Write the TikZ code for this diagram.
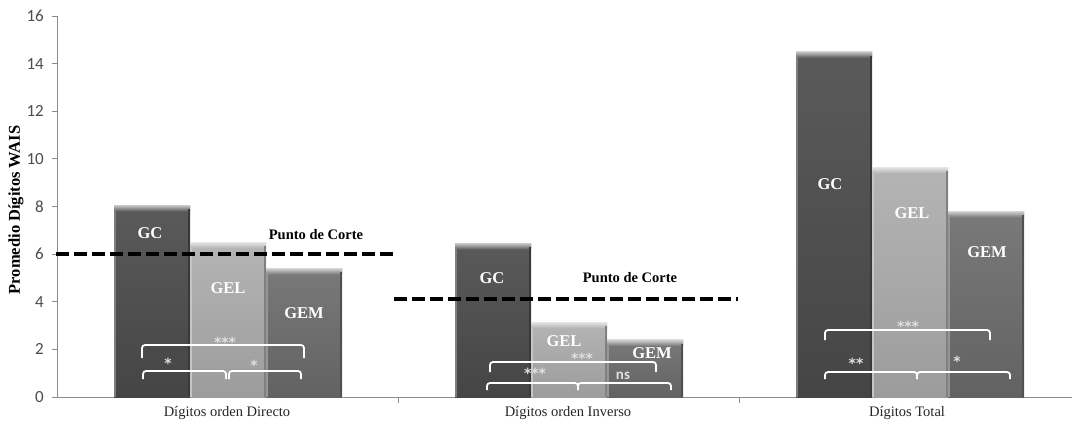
\documentclass[tikz,border=0pt]{standalone}
\usepackage{fontspec}
\setmainfont{Liberation Serif}
\newfontfamily\tickfont{Carlito}
\newfontfamily\starfont{DejaVu Sans}
\definecolor{gcA}{HTML}{5A5A5A}
\definecolor{gcB}{HTML}{454545}
\definecolor{gelA}{HTML}{B4B4B4}
\definecolor{gelB}{HTML}{9C9C9C}
\definecolor{gemA}{HTML}{797979}
\definecolor{gemB}{HTML}{626262}
\definecolor{axisgray}{HTML}{8C8C8C}
% one bevelled column: #1 left edge, #2 top edge, #3 upper colour, #4 lower colour
\newcommand\gbar[4]{%
  \shade[top color=#3, bottom color=#4] (#1,#2) rectangle ({#1+76},397);
  \shade[top color=white!65!#3, bottom color=#3] (#1,#2) rectangle ({#1+76},{#2+6});
  \fill[white!22!#3] (#1,{#2+4}) rectangle ({#1+2},397);
  \fill[black!18!#4] ({#1+74},{#2+4}) rectangle ({#1+76},397);
}
\begin{document}
\begin{tikzpicture}[x=1pt,y=-1pt,
  axisline/.style={draw=axisgray, line width=0.9pt},
  ticklabel/.style={font=\tickfont\fontsize{17}{17}\selectfont, text=black!70, anchor=east, inner sep=0pt},
  catlabel/.style={font=\fontsize{14.5}{16}\selectfont, text=black!85, inner sep=0pt},
  barlabel/.style={font=\bfseries\fontsize{16.5}{18}\selectfont, text=white, inner sep=0pt},
  cutlabel/.style={font=\bfseries\fontsize{14.5}{16}\selectfont, text=black, inner sep=0pt},
  cutline/.style={line width=4pt, dash pattern=on 13pt off 5pt, black},
  bracket/.style={draw=white, line width=1.8pt, rounded corners=3pt},
  sig/.style={font=\starfont\bfseries\fontsize{14}{14}\selectfont, text=white!88!black, inner sep=0pt, anchor=base},
  nslabel/.style={font=\tickfont\bfseries\fontsize{15}{15}\selectfont, text=white!88!black, inner sep=0pt, anchor=base},
]
\useasboundingbox[fill=white] (0,0) rectangle (1072,425);

% axes
\draw[axisline] (57,16) -- (57,397) -- (1072,397);
\foreach \v in {0,2,...,16}{
  \draw[axisline] (52,{397-23.81*\v}) -- (57,{397-23.81*\v});
  \node[ticklabel] (t\v) at (44,{397-23.81*\v}) {\v};
}
\foreach \xx in {398,739}{
  \draw[axisline] (\xx,397) -- (\xx,403);
}
\node[rotate=90, font=\bfseries\fontsize{16.5}{18}\selectfont, inner sep=0pt] (ylab) at (16,210) {Promedio Dígitos WAIS};

% columns: Dígitos orden Directo
\gbar{114}{205.3}{gcA}{gcB}
\gbar{190}{242.2}{gelA}{gelB}
\gbar{266}{268.4}{gemA}{gemB}
% columns: Dígitos orden Inverso
\gbar{455}{243.4}{gcA}{gcB}
\gbar{531}{322}{gelA}{gelB}
\gbar{607}{339.9}{gemA}{gemB}
% columns: Dígitos Total
\gbar{796}{51.8}{gcA}{gcB}
\gbar{872}{167.2}{gelA}{gelB}
\gbar{948}{211.3}{gemA}{gemB}

% group labels inside the columns
\node[barlabel] (gc1) at (150,233) {GC};
\node[barlabel] (gel1) at (228,288) {GEL};
\node[barlabel] (gem1) at (304,313) {GEM};
\node[barlabel] (gc2) at (492,278) {GC};
\node[barlabel] (gel2) at (564,341) {GEL};
\node[barlabel] (gem2) at (652,353) {GEM};
\node[barlabel] (gc3) at (830,184) {GC};
\node[barlabel] (gel3) at (912,213) {GEL};
\node[barlabel] (gem3) at (987,252) {GEM};

% cut-off lines
\coordinate (c1a) at (56,254);
\coordinate (c1b) at (397,254);
\coordinate (c2a) at (394,299);
\coordinate (c2b) at (738,299);
\draw[cutline] (c1a) -- (c1b);
\draw[cutline] (c2a) -- (c2b);
\node[cutlabel] (cut1) at (316,235) {Punto de Corte};
\node[cutlabel] (cut2) at (630,278) {Punto de Corte};

% significance brackets, Directo
\draw[bracket] (142,358) -- (142,345) -- (304,345) -- (304,358);
\node[sig] (s1a) at (225,347) {***};
\draw[bracket] (143,379) -- (143,371) -- (226,371) -- (226,379);
\draw[bracket] (229,379) -- (229,371) -- (301,371) -- (301,379);
\node[sig] (s1b) at (168,368) {*};
\node[sig] (s1c) at (254,370) {*};

% significance brackets, Inverso
\draw[bracket] (490,372) -- (490,362) -- (656,362) -- (656,372);
\node[sig] (s2a) at (582,363) {***};
\draw[bracket] (487,390) -- (487,383) -- (578,383) -- (578,390);
\draw[bracket] (578,390) -- (578,383) -- (671,383) -- (671,390);
\node[sig] (s2b) at (535,378) {***};
\node[nslabel] (s2c) at (623,379) {ns};

% significance brackets, Total
\draw[bracket] (825,340) -- (825,330) -- (990,330) -- (990,340);
\node[sig] (s3a) at (908,331) {***};
\draw[bracket] (825,379) -- (825,372) -- (917,372) -- (917,379);
\draw[bracket] (917,379) -- (917,372) -- (1010,372) -- (1010,379);
\node[sig] (s3b) at (856,368) {**};
\node[sig] (s3c) at (957,366) {*};

% category names
\node[catlabel] (cat1) at (227,413) {Dígitos orden Directo};
\node[catlabel] (cat2) at (568,413) {Dígitos orden Inverso};
\node[catlabel] (cat3) at (907,413) {Dígitos Total};
\end{tikzpicture}
\end{document}
